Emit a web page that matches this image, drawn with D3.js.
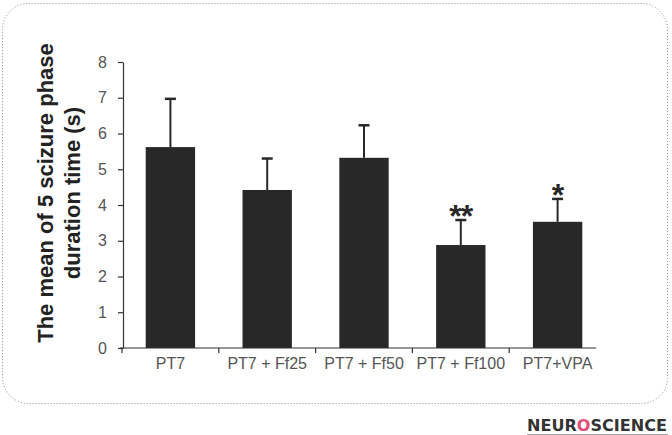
<!DOCTYPE html>
<html>
<head>
<meta charset="utf-8">
<script src="https://cdn.jsdelivr.net/npm/d3@7"></script>
<style>
  html, body { margin: 0; padding: 0; background: #fff; }
  svg { display: block; }
</style>
</head>
<body>
<svg id="chart" width="672" height="435"></svg>
<script>
const categories = ["PT7", "PT7 + Ff25", "PT7 + Ff50", "PT7 + Ff100", "PT7+VPA"];
const means = [5.62, 4.42, 5.32, 2.88, 3.53];
const errorTops = [6.97, 5.30, 6.23, 3.58, 4.17];
const significance = ["", "", "", "**", "*"];
const yTicks = [0, 1, 2, 3, 4, 5, 6, 7, 8];
const yTitleLines = ["The mean of 5 scizure phase", "duration time (s)"];

const svg = d3.select("#chart");

// dotted rounded frame
svg.append("rect")
  .attr("x", 2.5).attr("y", 3.5).attr("width", 665).attr("height", 400)
  .attr("rx", 26).attr("ry", 26)
  .attr("fill", "none").attr("stroke", "#8a8a8a").attr("stroke-width", 1)
  .attr("stroke-dasharray", "1,2");

const x = d3.scaleBand().domain(categories).range([122, 606]).paddingInner(0.49).paddingOuter(0.245);
const y = d3.scaleLinear().domain([0, 8]).range([348, 62]);

// y axis
const yAxis = svg.append("g").attr("transform", "translate(123,0)")
  .call(d3.axisLeft(y).tickValues(yTicks).tickSize(5).tickPadding(11).tickSizeOuter(0));
yAxis.select(".domain").attr("stroke", "#333").attr("stroke-width", 1.2);
yAxis.selectAll(".tick line").attr("stroke", "#333").attr("stroke-width", 1.2);
yAxis.selectAll(".tick text").attr("fill", "#555").style("font-family", "Liberation Sans, Arial, sans-serif").style("font-size", "16px");

// x axis (ticks at category boundaries)
const bounds = categories.map(c => x(c) - x.step() * x.paddingInner() / 2);
const lastRight = x(categories[categories.length - 1]) + x.bandwidth();
const xg = svg.append("g");
xg.append("line")
  .attr("x1", 120).attr("x2", lastRight + 14)
  .attr("y1", y(0)).attr("y2", y(0))
  .attr("stroke", "#333").attr("stroke-width", 1.2);
xg.selectAll("line.tk").data(bounds).join("line").attr("class", "tk")
  .attr("x1", d => d).attr("x2", d => d)
  .attr("y1", y(0)).attr("y2", y(0) + 5)
  .attr("stroke", "#333").attr("stroke-width", 1.2);
xg.selectAll("text").data(categories).join("text")
  .attr("x", d => x(d) + x.bandwidth() / 2)
  .attr("y", y(0) + 21)
  .attr("text-anchor", "middle")
  .attr("fill", "#555")
  .style("font-family", "Liberation Sans, Arial, sans-serif")
  .style("font-size", "16px")
  .text(d => d);

// bars
svg.append("g").selectAll("rect").data(categories).join("rect")
  .attr("x", d => x(d))
  .attr("y", (d, i) => y(means[i]))
  .attr("width", x.bandwidth())
  .attr("height", (d, i) => y(0) - y(means[i]))
  .attr("fill", "#282828");

// error bars
const eg = svg.append("g").attr("stroke", "#282828").attr("stroke-width", 2);
categories.forEach((c, i) => {
  const cx = x(c) + x.bandwidth() / 2;
  eg.append("line").attr("x1", cx).attr("x2", cx).attr("y1", y(means[i])).attr("y2", y(errorTops[i]));
  eg.append("line").attr("x1", cx - 5.5).attr("x2", cx + 5.5).attr("y1", y(errorTops[i])).attr("y2", y(errorTops[i])).attr("stroke-width", 2.5);
});

// significance stars
svg.append("g").selectAll("text").data(categories).join("text")
  .attr("x", d => x(d) + x.bandwidth() / 2)
  .attr("y", (d, i) => y(errorTops[i]) + 7)
  .attr("text-anchor", "middle")
  .attr("fill", "#282828")
  .style("font-family", "Liberation Sans, Arial, sans-serif")
  .style("font-weight", "bold")
  .style("font-size", "32px")
  .style("letter-spacing", "-1px")
  .text((d, i) => significance[i]);

// y title
const yt = svg.append("text")
  .attr("transform", "translate(0,193) rotate(-90)")
  .attr("text-anchor", "middle")
  .attr("fill", "#222")
  .style("font-family", "Liberation Sans, Arial, sans-serif")
  .style("font-weight", "bold")
  .style("font-size", "22px");
yt.selectAll("tspan").data(yTitleLines).join("tspan")
  .attr("x", 0)
  .attr("y", (d, i) => 53 + i * 27)
  .text(d => d);

// logo
const logo = svg.append("g");
logo.append("text")
  .attr("x", 527).attr("y", 431)
  .attr("fill", "#333")
  .style("font-family", "DejaVu Sans, sans-serif")
  .style("font-weight", "bold")
  .style("font-size", "16px")
  .attr("textLength", 140)
  .attr("lengthAdjust", "spacingAndGlyphs")
  .html('NEUR<tspan fill="#e0507a">O</tspan>SCIENCE');
logo.append("line")
  .attr("x1", 527).attr("x2", 668).attr("y1", 434.5).attr("y2", 434.5)
  .attr("stroke", "#aaa").attr("stroke-width", 1);
</script>
</body>
</html>
